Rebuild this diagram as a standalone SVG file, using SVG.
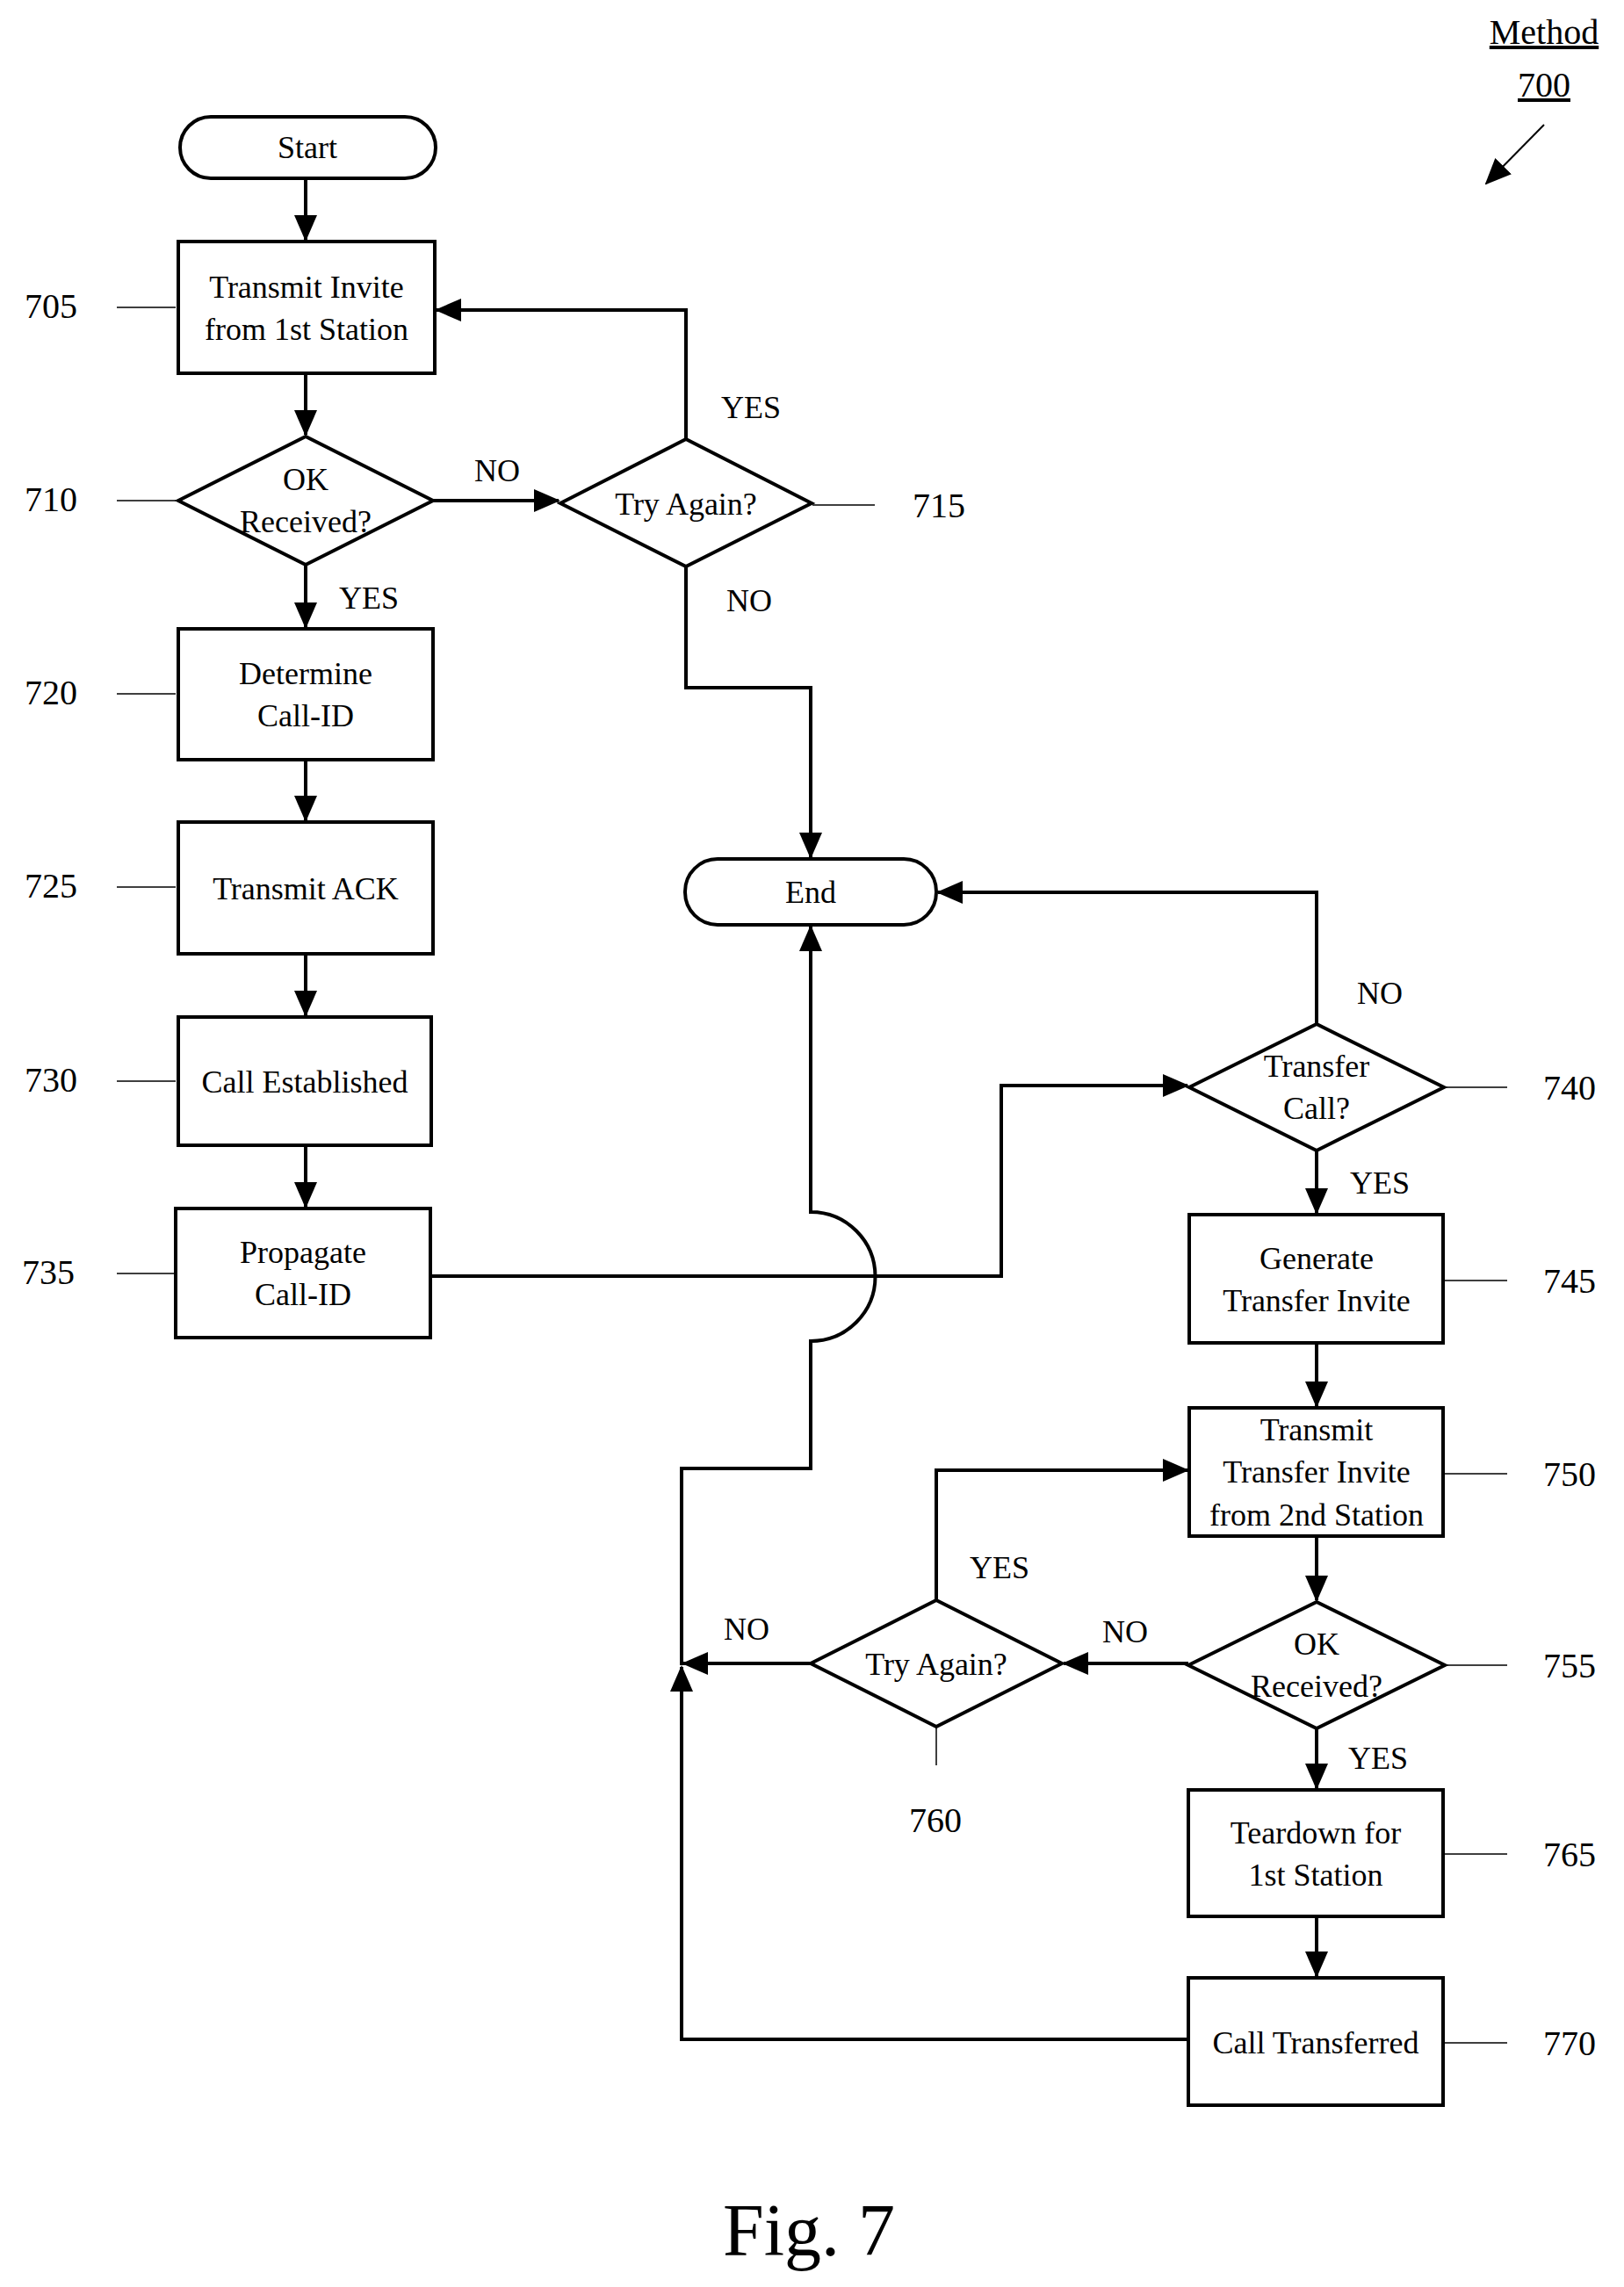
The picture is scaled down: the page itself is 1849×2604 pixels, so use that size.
<svg xmlns="http://www.w3.org/2000/svg" width="1849" height="2604" viewBox="0 0 1849 2604">
<defs>
<marker id="ah" markerWidth="10" markerHeight="10" refX="9" refY="5" orient="auto" markerUnits="userSpaceOnUse" viewBox="0 0 10 10"><path d="M0,0 L10,5 L0,10 z" fill="#000"/></marker>
<style>
.s{fill:#fff;stroke:#000;stroke-width:4}
.c{fill:none;stroke:#000;stroke-width:4}
.c2{fill:none;stroke:#000;stroke-width:4;marker-end:url(#ah)}
.l{fill:none;stroke:#000;stroke-width:1.5}
text{font-family:"Liberation Serif",serif;font-size:36px;fill:#000}
.m{text-anchor:middle}
.n{font-size:40px}
</style>
<marker id="a" markerWidth="30" markerHeight="26" refX="28" refY="13" orient="auto" markerUnits="userSpaceOnUse"><path d="M0,0 L30,13 L0,26 z" fill="#000"/></marker>
</defs>
<rect width="1849" height="2604" fill="#fff"/>
<g id="connectors" fill="none" stroke="#000" stroke-width="4">
<path d="M348,203 V273" marker-end="url(#a)"/>
<path d="M348,425 V495" marker-end="url(#a)"/>
<path d="M493,570 H636" marker-end="url(#a)"/>
<path d="M781,500 V353 H497" marker-end="url(#a)"/>
<path d="M781,645 V783 H923 V976" marker-end="url(#a)"/>
<path d="M348,643 V714" marker-end="url(#a)"/>
<path d="M348,865 V934" marker-end="url(#a)"/>
<path d="M348,1086 V1156" marker-end="url(#a)"/>
<path d="M348,1304 V1374" marker-end="url(#a)"/>
<path d="M490,1453 H1140 V1236 H1352" marker-end="url(#a)"/>
<path d="M1353,2322 H776 V1898" marker-end="url(#a)"/>
<path d="M776,1896 V1672 H923 V1527 A73,73 0 0 0 923,1380 V1055" marker-end="url(#a)"/>
<path d="M923,1894 H778" marker-end="url(#a)"/>
<path d="M1499,1166 V1016 H1068" marker-end="url(#a)"/>
<path d="M1499,1310 V1381" marker-end="url(#a)"/>
<path d="M1499,1529 V1601" marker-end="url(#a)"/>
<path d="M1499,1749 V1822" marker-end="url(#a)"/>
<path d="M1353,1894 H1211" marker-end="url(#a)"/>
<path d="M1066,1822 V1674 H1352" marker-end="url(#a)"/>
<path d="M1499,1968 V2036" marker-end="url(#a)"/>
<path d="M1499,2182 V2250" marker-end="url(#a)"/>
</g>
<g id="leaders" stroke="#000" stroke-width="1.5">
<path d="M133,350 H200 M133,570 H200 M133,790 H200 M133,1010 H200 M133,1231 H200 M133,1450 H200"/>
<path d="M925,575 H996 M1644,1238 H1716 M1644,1458 H1716 M1644,1678 H1716 M1644,1896 H1716 M1644,2111 H1716 M1644,2326 H1716 M1066,1966 V2010"/>
<path d="M1758,142 L1692,209" marker-end="url(#a)" stroke-width="2"/>
</g>
<g id="start"><rect class="s" x="205" y="133" width="291" height="70" rx="35"/><text class="m" x="350" y="180">Start</text></g>
<g id="n705"><rect class="s" x="203" y="275" width="292" height="150"/><text class="m" x="349" y="339">Transmit Invite</text><text class="m" x="349" y="387">from 1st Station</text></g>
<g id="n710"><path class="s" d="M203,570 L348,497 L493,570 L348,643 Z"/><text class="m" x="348" y="558">OK</text><text class="m" x="348" y="606">Received?</text></g>
<g id="n715"><path class="s" d="M638,573 L781,500 L924,573 L781,645 Z"/><text class="m" x="781" y="586">Try Again?</text></g>
<g id="n720"><rect class="s" x="203" y="716" width="290" height="149"/><text class="m" x="348" y="779">Determine</text><text class="m" x="348" y="827">Call-ID</text></g>
<g id="n725"><rect class="s" x="203" y="936" width="290" height="150"/><text class="m" x="348" y="1024">Transmit ACK</text></g>
<g id="n730"><rect class="s" x="203" y="1158" width="288" height="146"/><text class="m" x="347" y="1244">Call Established</text></g>
<g id="n735"><rect class="s" x="200" y="1376" width="290" height="147"/><text class="m" x="345" y="1438">Propagate</text><text class="m" x="345" y="1486">Call-ID</text></g>
<g id="end"><rect class="s" x="780" y="978" width="286" height="75" rx="37"/><text class="m" x="923" y="1028">End</text></g>
<g id="n740"><path class="s" d="M1354,1238 L1499,1166 L1644,1238 L1499,1310 Z"/><text class="m" x="1499" y="1226">Transfer</text><text class="m" x="1499" y="1274">Call?</text></g>
<g id="n745"><rect class="s" x="1354" y="1383" width="289" height="146"/><text class="m" x="1499" y="1445">Generate</text><text class="m" x="1499" y="1493">Transfer Invite</text></g>
<g id="n750"><rect class="s" x="1354" y="1603" width="289" height="146"/><text class="m" x="1499" y="1640">Transmit</text><text class="m" x="1499" y="1688">Transfer Invite</text><text class="m" x="1499" y="1737">from 2nd Station</text></g>
<g id="n755"><path class="s" d="M1353,1896 L1499,1824 L1645,1896 L1499,1968 Z"/><text class="m" x="1499" y="1884">OK</text><text class="m" x="1499" y="1932">Received?</text></g>
<g id="n760"><path class="s" d="M923,1894 L1066,1822 L1209,1894 L1066,1966 Z"/><text class="m" x="1066" y="1907">Try Again?</text></g>
<g id="n765"><rect class="s" x="1353" y="2038" width="290" height="144"/><text class="m" x="1498" y="2099">Teardown for</text><text class="m" x="1498" y="2147">1st Station</text></g>
<g id="n770"><rect class="s" x="1353" y="2252" width="290" height="145"/><text class="m" x="1498" y="2338">Call Transferred</text></g>
<g id="labels">
<text class="m" x="566" y="548">NO</text>
<text class="m" x="855" y="476">YES</text>
<text class="m" x="853" y="696">NO</text>
<text class="m" x="420" y="693">YES</text>
<text class="m" x="1571" y="1143">NO</text>
<text class="m" x="1571" y="1359">YES</text>
<text class="m" x="1138" y="1797">YES</text>
<text class="m" x="850" y="1867">NO</text>
<text class="m" x="1281" y="1870">NO</text>
<text class="m" x="1569" y="2014">YES</text>
<text class="m n" x="58" y="362">705</text>
<text class="m n" x="58" y="582">710</text>
<text class="m n" x="58" y="802">720</text>
<text class="m n" x="58" y="1022">725</text>
<text class="m n" x="58" y="1243">730</text>
<text class="m n" x="55" y="1462">735</text>
<text class="m n" x="1069" y="589">715</text>
<text class="m n" x="1787" y="1252">740</text>
<text class="m n" x="1787" y="1472">745</text>
<text class="m n" x="1787" y="1692">750</text>
<text class="m n" x="1787" y="1910">755</text>
<text class="m n" x="1787" y="2125">765</text>
<text class="m n" x="1787" y="2340">770</text>
<text class="m n" x="1065" y="2086">760</text>
<text class="m n" x="1758" y="50" text-decoration="underline">Method</text>
<text class="m n" x="1758" y="110" text-decoration="underline">700</text>
<text class="m" x="921" y="2568" style="font-size:84px">Fig. 7</text>
</g>
</svg>
